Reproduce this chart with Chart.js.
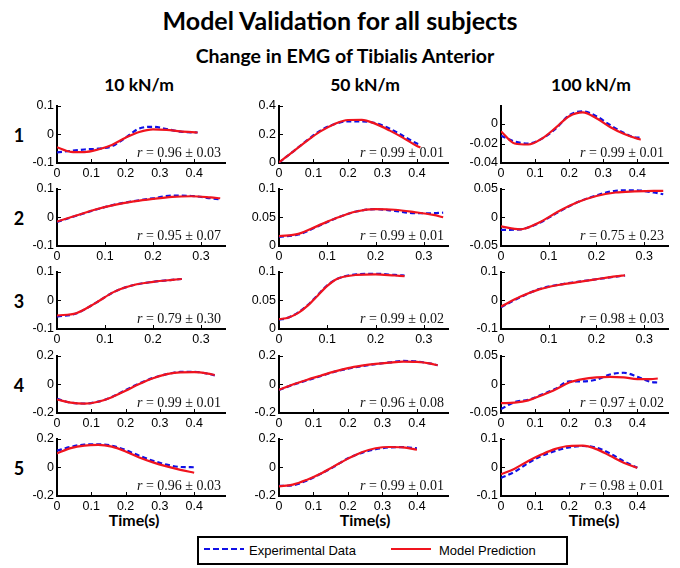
<!DOCTYPE html>
<html><head><meta charset="utf-8">
<script src="https://cdn.jsdelivr.net/npm/chart.js@4.4.0/dist/chart.umd.min.js"></script>
<style>
html,body{margin:0;padding:0;background:#fff;}
#wrap{position:relative;width:680px;height:568px;overflow:hidden;font-family:Lato,"Open Sans",sans-serif;color:#000;}
.t{position:absolute;white-space:nowrap;font-weight:bold;transform:translate(-50%,-50%);line-height:1;}
canvas{position:absolute;}
.r{position:absolute;font-family:"Liberation Serif","DejaVu Serif",serif;font-size:14px;color:#111;white-space:nowrap;transform:translate(-100%,-50%);line-height:1;}
#legend{position:absolute;left:197px;top:536px;width:367px;height:25px;border:2px solid #000;font-family:"Liberation Sans",Arial,sans-serif;font-size:13px;}
#legend span{position:absolute;top:5px;}
#legend svg{position:absolute;top:6px;}
</style></head><body><div id="wrap"></div>
<script>
// ---------- data ----------
const mainTitle = "Model Validation for all subjects";
const subTitle = "Change in EMG of Tibialis Anterior";
const columns = ["10 kN/m", "50 kN/m", "100 kN/m"];
const rowLabels = ["1", "2", "3", "4", "5"];
const xLabel = "Time(s)";
const seriesNames = ["Experimental Data", "Model Prediction"];

const xTicksLong = [0, 0.1, 0.2, 0.3, 0.4];
const xTicksShort = [0, 0.1, 0.2, 0.3];
const xMaxByRow = [0.49, 0.35, 0.35, 0.49, 0.49];

const rMean = [[0.96, 0.99, 0.99], [0.95, 0.99, 0.75], [0.79, 0.99, 0.98], [0.99, 0.96, 0.97], [0.96, 0.99, 0.98]];
const rSd   = [[0.03, 0.01, 0.01], [0.07, 0.01, 0.23], [0.30, 0.02, 0.03], [0.01, 0.08, 0.02], [0.03, 0.01, 0.01]];

// row 1
const t11 = [0, 0.04, 0.08, 0.12, 0.16, 0.2, 0.24, 0.28, 0.32, 0.36, 0.41];
const exp11 = [-0.063, -0.058, -0.053, -0.050, -0.042, -0.012, 0.020, 0.026, 0.018, 0.009, 0.006];
const mod11 = [-0.045, -0.061, -0.062, -0.053, -0.037, -0.012, 0.008, 0.017, 0.015, 0.010, 0.006];
const yTicks11 = [-0.1, 0, 0.1];
const yLim11 = [-0.1, 0.1];

const t12 = [0, 0.04, 0.08, 0.12, 0.16, 0.2, 0.24, 0.28, 0.32, 0.36, 0.40, 0.41];
const exp12 = [0.003, 0.078, 0.155, 0.225, 0.270, 0.290, 0.290, 0.277, 0.240, 0.188, 0.135, 0.128];
const mod12 = [0.005, 0.077, 0.152, 0.220, 0.270, 0.299, 0.300, 0.272, 0.227, 0.175, 0.118, 0.107];
const yTicks12 = [0, 0.2, 0.4];
const yLim12 = [0, 0.4];

const t13 = [0, 0.04, 0.08, 0.12, 0.16, 0.2, 0.24, 0.28, 0.32, 0.36, 0.40, 0.41];
const exp13 = [-0.012, -0.018, -0.020, -0.015, -0.005, 0.009, 0.013, 0.008, -0.001, -0.009, -0.014, -0.014];
const mod13 = [-0.0075, -0.020, -0.021, -0.015, -0.004, 0.008, 0.012, 0.006, -0.003, -0.010, -0.015, -0.016];
const yTicks13 = [-0.04, -0.02, 0];
const yLim13 = [-0.04, 0.019];

// row 2
const t21 = [0, 0.04, 0.08, 0.12, 0.16, 0.2, 0.24, 0.28, 0.32, 0.34];
const exp21 = [-0.016, 0.005, 0.026, 0.044, 0.056, 0.066, 0.075, 0.074, 0.066, 0.062];
const mod21 = [-0.015, 0.006, 0.027, 0.043, 0.055, 0.064, 0.071, 0.073, 0.069, 0.066];
const yTicks21 = [-0.1, 0, 0.1];
const yLim21 = [-0.1, 0.1];

const t22 = [0, 0.04, 0.08, 0.12, 0.16, 0.2, 0.24, 0.28, 0.32, 0.34];
const exp22 = [0.016, 0.020, 0.034, 0.049, 0.060, 0.064, 0.061, 0.057, 0.057, 0.058];
const mod22 = [0.017, 0.021, 0.035, 0.049, 0.060, 0.064, 0.063, 0.059, 0.054, 0.050];
const yTicks22 = [0, 0.05, 0.1];
const yLim22 = [0, 0.1];

const t23 = [0, 0.04, 0.08, 0.12, 0.16, 0.2, 0.24, 0.28, 0.32, 0.34];
const exp23 = [-0.022, -0.021, -0.010, 0.009, 0.026, 0.038, 0.046, 0.047, 0.043, 0.040];
const mod23 = [-0.016, -0.021, -0.009, 0.010, 0.026, 0.037, 0.043, 0.045, 0.046, 0.046];
const yTicks23 = [-0.05, 0, 0.05];
const yLim23 = [-0.05, 0.05];

// row 3
const t31 = [0, 0.04, 0.08, 0.12, 0.16, 0.2, 0.24, 0.26];
const exp31 = [-0.057, -0.046, -0.010, 0.030, 0.053, 0.064, 0.071, 0.074];
const mod31 = [-0.053, -0.045, -0.010, 0.030, 0.053, 0.064, 0.071, 0.074];
const yTicks31 = [-0.1, 0, 0.1];
const yLim31 = [-0.1, 0.1];

const t32 = [0, 0.02, 0.04, 0.06, 0.08, 0.1, 0.12, 0.16, 0.2, 0.24, 0.26];
const exp32 = [0.016, 0.020, 0.029, 0.042, 0.059, 0.076, 0.087, 0.095, 0.096, 0.094, 0.093];
const mod32 = [0.017, 0.020, 0.028, 0.041, 0.058, 0.075, 0.087, 0.094, 0.095, 0.093, 0.092];
const yTicks32 = [0, 0.05, 0.1];
const yLim32 = [0, 0.1];

const t33 = [0, 0.04, 0.08, 0.12, 0.16, 0.2, 0.24, 0.26];
const exp33 = [-0.024, 0.010, 0.039, 0.054, 0.064, 0.073, 0.082, 0.086];
const mod33 = [-0.022, 0.012, 0.038, 0.053, 0.063, 0.073, 0.083, 0.087];
const yTicks33 = [-0.1, 0, 0.1];
const yLim33 = [-0.1, 0.1];

// row 4
const t41 = [0, 0.04, 0.08, 0.12, 0.16, 0.2, 0.24, 0.28, 0.32, 0.36, 0.40, 0.44, 0.46];
const exp41 = [-0.102, -0.128, -0.134, -0.121, -0.089, -0.040, 0.005, 0.044, 0.070, 0.086, 0.087, 0.073, 0.062];
const mod41 = [-0.106, -0.128, -0.135, -0.122, -0.090, -0.045, 0.002, 0.042, 0.070, 0.083, 0.084, 0.074, 0.064];
const yTicks41 = [-0.2, 0, 0.2];
const yLim41 = [-0.2, 0.2];

const t42 = [0, 0.04, 0.08, 0.12, 0.16, 0.2, 0.24, 0.28, 0.32, 0.36, 0.40, 0.44, 0.46];
const exp42 = [-0.040, -0.004, 0.026, 0.056, 0.086, 0.108, 0.126, 0.140, 0.152, 0.162, 0.158, 0.143, 0.132];
const mod42 = [-0.038, -0.002, 0.030, 0.059, 0.088, 0.112, 0.129, 0.142, 0.151, 0.157, 0.155, 0.143, 0.132];
const yTicks42 = [-0.2, 0, 0.2];
const yLim42 = [-0.2, 0.2];

const t43 = [0, 0.04, 0.08, 0.12, 0.16, 0.2, 0.24, 0.28, 0.32, 0.36, 0.40, 0.44, 0.46];
const exp43 = [-0.043, -0.031, -0.027, -0.018, -0.008, 0.005, 0.005, 0.008, 0.017, 0.020, 0.013, 0.004, 0.003];
const mod43 = [-0.033, -0.032, -0.028, -0.019, -0.009, 0.003, 0.009, 0.012, 0.013, 0.012, 0.009, 0.009, 0.010];
const yTicks43 = [-0.05, 0, 0.05];
const yLim43 = [-0.05, 0.05];

// row 5
const t51 = [0, 0.04, 0.08, 0.12, 0.16, 0.2, 0.24, 0.28, 0.32, 0.36, 0.40];
const exp51 = [0.115, 0.142, 0.158, 0.160, 0.150, 0.120, 0.080, 0.045, 0.018, 0.002, 0.0];
const mod51 = [0.096, 0.133, 0.151, 0.155, 0.143, 0.110, 0.068, 0.034, 0.006, -0.018, -0.038];
const yTicks51 = [-0.2, 0, 0.2];
const yLim51 = [-0.2, 0.2];

const t52 = [0, 0.04, 0.08, 0.12, 0.16, 0.2, 0.24, 0.28, 0.32, 0.36, 0.40];
const exp52 = [-0.130, -0.125, -0.093, -0.047, 0.005, 0.062, 0.100, 0.125, 0.138, 0.140, 0.132];
const mod52 = [-0.133, -0.121, -0.088, -0.045, 0.008, 0.060, 0.105, 0.132, 0.141, 0.138, 0.122];
const yTicks52 = [-0.2, 0, 0.2];
const yLim52 = [-0.2, 0.2];

const t53 = [0, 0.04, 0.08, 0.12, 0.16, 0.2, 0.24, 0.28, 0.32, 0.36, 0.40];
const exp53 = [-0.037, -0.016, 0.015, 0.040, 0.057, 0.069, 0.074, 0.068, 0.048, 0.021, -0.002];
const mod53 = [-0.024, -0.005, 0.022, 0.045, 0.064, 0.074, 0.075, 0.063, 0.040, 0.016, -0.002];
const yTicks53 = [-0.1, 0, 0.1];
const yLim53 = [-0.1, 0.1];

// ---------- table built from the arrays ----------
const plots = [
  [[t11, exp11, mod11, yTicks11, yLim11], [t12, exp12, mod12, yTicks12, yLim12], [t13, exp13, mod13, yTicks13, yLim13]],
  [[t21, exp21, mod21, yTicks21, yLim21], [t22, exp22, mod22, yTicks22, yLim22], [t23, exp23, mod23, yTicks23, yLim23]],
  [[t31, exp31, mod31, yTicks31, yLim31], [t32, exp32, mod32, yTicks32, yLim32], [t33, exp33, mod33, yTicks33, yLim33]],
  [[t41, exp41, mod41, yTicks41, yLim41], [t42, exp42, mod42, yTicks42, yLim42], [t43, exp43, mod43, yTicks43, yLim43]],
  [[t51, exp51, mod51, yTicks51, yLim51], [t52, exp52, mod52, yTicks52, yLim52], [t53, exp53, mod53, yTicks53, yLim53]]
];

// ---------- layout & style ----------
const RED = '#f0141e';
const BLUE = '#1010e6';
const TICK_FONT = {family: '"Liberation Sans", Arial, sans-serif', size: 12.5};
const colLeft = [57, 279, 501];
const colRight = [225, 448, 668];
const rowTop = [104, 187, 270, 354, 437];
const plotH = 59;
const AXW = 50, PADT = 9, PADR = 10, AXH = 22;

const wrap = document.getElementById('wrap');
function addText(txt, x, y, size, cls) {
  const d = document.createElement('div');
  d.className = cls || 't';
  d.style.left = x + 'px'; d.style.top = y + 'px'; d.style.fontSize = size + 'px';
  d.innerHTML = txt;
  wrap.appendChild(d);
  return d;
}
addText(mainTitle, 340, 20, 25);
addText(subTitle, 345, 56, 19.5);
const colCenters = [139, 365, 591];
columns.forEach((c, i) => addText(c, colCenters[i], 85, 17.5));
rowLabels.forEach((r, i) => addText(r, 19, rowTop[i] + 31, 18));
[134, 365, 594].forEach(x => addText(xLabel, x, 520, 16));

const inwardTicks = {
  id: 'inwardTicks',
  afterDraw(chart) {
    const {ctx, chartArea: a, scales: {x, y}} = chart;
    ctx.save();
    ctx.strokeStyle = '#000'; ctx.lineWidth = 1;
    ctx.beginPath();
    x.ticks.forEach(tk => {
      const p = Math.round(x.getPixelForValue(tk.value)) + 0.5;
      if (tk.value === x.min) return;
      ctx.moveTo(p, a.bottom); ctx.lineTo(p, a.bottom - 4);
    });
    y.ticks.forEach(tk => {
      const p = Math.round(y.getPixelForValue(tk.value)) + 0.5;
      if (tk.value === y.min) return;
      ctx.moveTo(a.left, p); ctx.lineTo(a.left + 4, p);
    });
    ctx.stroke();
    ctx.restore();
  }
};

plots.forEach((row, ri) => {
  row.forEach((p, ci) => {
    const [t, ex, md, yTicks, yLim] = p;
    const xTicks = xMaxByRow[ri] > 0.4 ? xTicksLong : xTicksShort;
    const xMax = xMaxByRow[ri];
    const cv = document.createElement('canvas');
    const w = colRight[ci] - colLeft[ci] + AXW + PADR;
    const h = plotH + PADT + AXH;
    cv.width = w; cv.height = h;
    cv.style.left = (colLeft[ci] - AXW) + 'px';
    cv.style.top = (rowTop[ri] - PADT) + 'px';
    cv.style.width = w + 'px'; cv.style.height = h + 'px';
    wrap.appendChild(cv);
    new Chart(cv, {
      type: 'line',
      data: {
        datasets: [
          {label: seriesNames[1], data: t.map((x, i) => ({x, y: md[i]})), borderColor: RED, borderWidth: 2.2,
           pointRadius: 0, cubicInterpolationMode: 'monotone', fill: false},
          {label: seriesNames[0], data: t.map((x, i) => ({x, y: ex[i]})), borderColor: BLUE, borderWidth: 2.2,
           borderDash: [5, 3], pointRadius: 0, cubicInterpolationMode: 'monotone', fill: false}
        ]
      },
      options: {
        responsive: false, animation: false, devicePixelRatio: 1,
        layout: {padding: {top: PADT, right: PADR, left: 0, bottom: 0}},
        plugins: {legend: {display: false}, tooltip: {enabled: false}},
        scales: {
          x: {
            type: 'linear', min: 0, max: xMax,
            afterBuildTicks: s => { s.ticks = xTicks.map(v => ({value: v})); },
            afterFit: s => { s.height = AXH; },
            grid: {display: true, drawOnChartArea: false, drawTicks: false},
            border: {display: true, color: '#000', width: 2},
            ticks: {font: TICK_FONT, color: '#000', padding: 3, maxRotation: 0, autoSkip: false, callback: v => String(v)}
          },
          y: {
            type: 'linear', min: yLim[0], max: yLim[1],
            afterBuildTicks: s => { s.ticks = yTicks.map(v => ({value: v})); },
            afterFit: s => { s.width = AXW; },
            grid: {display: true, drawOnChartArea: false, drawTicks: false},
            border: {display: true, color: '#000', width: 2},
            ticks: {font: TICK_FONT, color: '#000', padding: 3, autoSkip: false, callback: v => String(v)}
          }
        }
      },
      plugins: [inwardTicks]
    });
    addText('<i>r</i> = ' + rMean[ri][ci].toFixed(2) + ' ± ' + rSd[ri][ci].toFixed(2),
            colRight[ci] - 4, rowTop[ri] + plotH - 10, 14, 'r');
  });
});

// legend
const lg = document.createElement('div');
lg.id = 'legend';
lg.innerHTML =
  '<svg width="40" height="10" style="left:5px"><line x1="0" y1="5" x2="40" y2="5" stroke="' + BLUE + '" stroke-width="2" stroke-dasharray="6,3"/></svg>' +
  '<span style="left:50px">' + seriesNames[0] + '</span>' +
  '<svg width="40" height="10" style="left:192px"><line x1="0" y1="5" x2="40" y2="5" stroke="' + RED + '" stroke-width="2"/></svg>' +
  '<span style="left:240px">' + seriesNames[1] + '</span>';
wrap.appendChild(lg);
</script>
</body></html>
